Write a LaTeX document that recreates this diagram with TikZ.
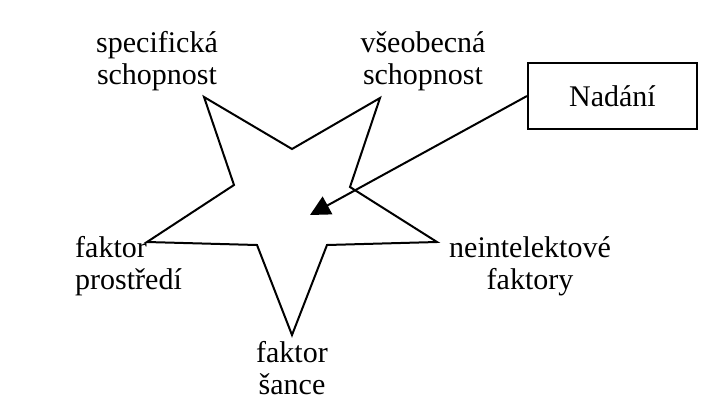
\documentclass[tikz,border=0pt]{standalone}
\usepackage{fontspec}
\setmainfont{Liberation Serif}
\usetikzlibrary{arrows.meta}
\begin{document}
\begin{tikzpicture}[x=1pt,y=-1pt,
  lbl/.style={inner sep=0pt,anchor=base,align=center,font=\fontsize{30}{32}\selectfont},
  box/.style={draw,line width=2pt,minimum width=169pt,minimum height=66pt,inner sep=0pt,font=\fontsize{30}{32}\selectfont},
  starline/.style={line width=2pt,line join=miter},
  arr/.style={line width=2pt,-{Triangle[length=20pt,width=20pt]}}]
\useasboundingbox (0,0) rectangle (706,410);
\fill[white] (0,0) rectangle (706,410);
% star
\draw[starline] (204,97) -- (292,149) -- (380,98) -- (350,187) -- (437,242) -- (327,245)
  -- (292,335) -- (257,245) -- (147,242) -- (234,185) -- cycle;
\coordinate (c) at (310,215);
% labels
\node[lbl] (spec) at (157,84) {specifická\\schopnost};
\node[lbl] (vseo) at (423,84) {všeobecná\\schopnost};
\node[lbl,align=left,anchor=base west] (prost) at (75,289) {faktor\\prostředí};
\node[lbl] (neint) at (530,289) {neintelektové\\faktory};
\node[lbl] (sance) at (292,394) {faktor\\šance};
\node[box] (nad) at (612.5,96) {Nadání};
\draw[arr] (nad.west) -- (c);
\end{tikzpicture}
\end{document}
